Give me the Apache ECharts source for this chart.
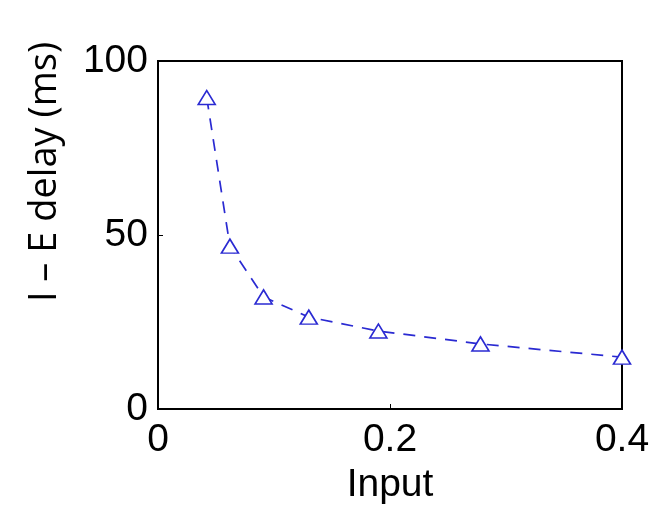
<!DOCTYPE html>
<html>
<head>
<meta charset="utf-8">
<script src="https://cdn.jsdelivr.net/npm/echarts@6/dist/echarts.min.js"></script>
<style>
  html, body { margin: 0; padding: 0; background: #fff; }
  #chart { width: 654px; height: 507px; }
</style>
</head>
<body>
<div id="chart"></div>
<script>
// Input strength vs. I–E delay
const inputValues = [0.042, 0.062, 0.091, 0.130, 0.190, 0.278, 0.400];
const delayValues = [89.5, 46.8, 32.2, 26.4, 22.4, 18.7, 14.9];
const xTicks = [0, 0.2, 0.4];
const yTicks = [0, 50, 100];

const blue = '#2a2ad2';
const tickFont = { fontFamily: 'Liberation Sans, Arial, sans-serif', fontSize: 39, color: '#000' };

const chart = echarts.init(document.getElementById('chart'), null, { renderer: 'canvas' });
chart.setOption({
  backgroundColor: '#fff',
  animation: false,
  grid: {
    left: 158, right: 32, top: 61, bottom: 98,
    containLabel: false, outerBoundsMode: 'none',
    show: true, borderColor: '#000', borderWidth: 2, backgroundColor: 'transparent'
  },
  xAxis: {
    type: 'value', min: xTicks[0], max: xTicks[xTicks.length - 1], interval: 0.2,
    name: 'Input', nameLocation: 'middle', nameGap: 57,
    nameTextStyle: { fontFamily: 'Liberation Sans, Arial, sans-serif', fontSize: 39, color: '#000' },
    axisLine: { show: true, lineStyle: { color: '#000', width: 2 } },
    axisTick: { show: true, inside: true, length: 5, lineStyle: { color: '#000' } },
    splitLine: { show: false },
    axisLabel: Object.assign({ margin: 12, formatter: v => String(v) }, tickFont)
  },
  yAxis: {
    type: 'value', min: yTicks[0], max: yTicks[yTicks.length - 1], interval: 50,
    axisLine: { show: true, lineStyle: { color: '#000', width: 2 } },
    axisTick: { show: true, inside: true, length: 5, lineStyle: { color: '#000' } },
    splitLine: { show: false },
    axisLabel: Object.assign({ margin: 10 }, tickFont)
  },
  graphic: [{
    type: 'text',
    x: 45, y: 172,
    rotation: Math.PI / 2,
    style: {
      text: 'I – E delay (ms)',
      font: '38px "Open Sans", sans-serif',
      fill: '#000',
      align: 'center',
      verticalAlign: 'middle'
    }
  }],
  series: [{
    type: 'line',
    data: inputValues.map((x, i) => [x, delayValues[i]]),
    symbol: 'triangle',
    symbolSize: [17, 14],
    showAllSymbol: true,
    itemStyle: { color: '#fff', borderColor: blue, borderWidth: 1.6 },
    lineStyle: { color: blue, width: 1.7, type: [12, 9] },
    clip: false
  }]
});
</script>
</body>
</html>
